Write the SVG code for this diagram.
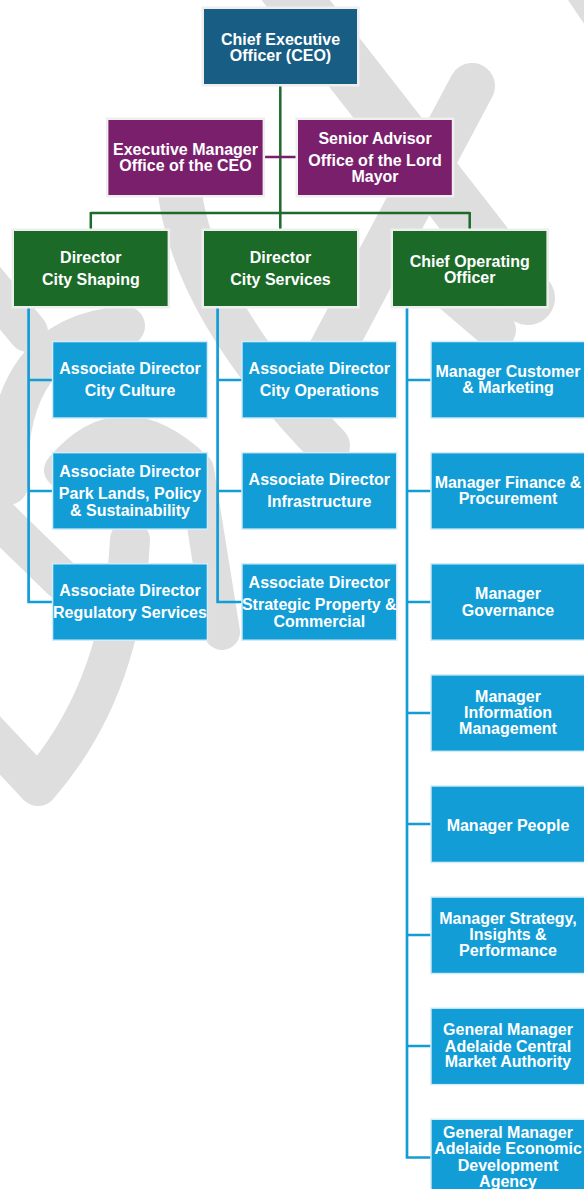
<svg xmlns="http://www.w3.org/2000/svg" width="584" height="1189" viewBox="0 0 584 1189">
<style>
.wm{fill:none;stroke:#dedede;stroke-linecap:round;stroke-linejoin:round}
.box{paint-order:stroke}
.ceo{fill:#185e84;stroke:#eeeeee;stroke-width:5}
.pur{fill:#7a1f6b;stroke:#eeeeee;stroke-width:5}
.grn{fill:#1c6a27;stroke:#eeeeee;stroke-width:5}
.blu{fill:#129dd6;stroke:#d4ecf8;stroke-width:3}
text{font-family:"Liberation Sans",Arial,sans-serif;font-weight:bold;font-size:16px;fill:#ffffff;text-anchor:middle}
.lg{fill:none;stroke:#1d6b2a;stroke-width:2.5}
.lp{fill:none;stroke:#7a1f6b;stroke-width:2.5}
.lb{fill:none;stroke:#139dd6;stroke-width:2.7}
</style>
<rect width="584" height="1189" fill="#ffffff"/>
<g id="watermark">
<path class="wm" stroke-width="54" d="M284,-15 L528,298"/>
<path class="wm" stroke-width="50" d="M578,-30 L625,40"/>
<path class="wm" stroke-width="46" d="M472,86 L320,372"/>
<path class="wm" stroke-width="40" d="M400,248 L496,330"/>
<path class="wm" stroke-width="44" d="M178,175 Q186,300 328,446"/>
<path class="wm" stroke-width="40" d="M-30,262 L28,332"/>
<path class="wm" stroke-width="40" d="M8,485 Q4,335 125,326"/>
<path class="wm" stroke-width="36" d="M62,470 Q122,398 196,470 L222,632"/>
<path class="wm" stroke-width="40" d="M-20,500 L62,580"/>
<path class="wm" stroke-width="40" d="M130,540 Q122,690 38,786 L-22,722"/>
</g>
<g id="connectors">
<path class="lg" d="M280.3,84 V231 M90.8,213 H469.7 M90.8,212 V231 M469.7,212 V231"/>
<path class="lp" d="M262.6,157 H298"/>
<path class="lb" d="M28.6,306 V602 H52 M28.6,380 H52 M28.6,491 H52"/>
<path class="lb" d="M217.6,306 V602 H242 M217.6,380 H242 M217.6,491 H242"/>
<path class="lb" d="M407,306 V1157.5 H431 M407,380 H431 M407,491 H431 M407,602 H431 M407,713 H431 M407,824 H431 M407,935 H431 M407,1046 H431"/>
</g>
<g id="ceo"><rect class="box ceo" x="204" y="9" width="153" height="75"/><text x="280.5" y="44.5">Chief Executive</text><text x="280.5" y="60.5">Officer (CEO)</text></g>
<g id="exec-manager"><rect class="box pur" x="108.4" y="120" width="154.2" height="75"/><text x="185.5" y="155">Executive Manager</text><text x="185.5" y="170.7">Office of the CEO</text></g>
<g id="senior-advisor"><rect class="box pur" x="298" y="120" width="153.8" height="75"/><text x="375" y="144">Senior Advisor</text><text x="375" y="166">Office of the Lord</text><text x="375" y="181.5">Mayor</text></g>
<g id="dir-city-shaping"><rect class="box grn" x="14" y="231" width="153.6" height="75"/><text x="90.8" y="263.3">Director</text><text x="90.8" y="285">City Shaping</text></g>
<g id="dir-city-services"><rect class="box grn" x="204" y="231" width="153" height="75"/><text x="280.5" y="263.3">Director</text><text x="280.5" y="285">City Services</text></g>
<g id="coo"><rect class="box grn" x="393" y="231" width="153.4" height="75"/><text x="469.7" y="266.7">Chief Operating</text><text x="469.7" y="282.5">Officer</text></g>
<g id="ad-city-culture"><rect class="box blu" x="53.3" y="342.3" width="153.4" height="75"/><text x="130" y="374">Associate Director</text><text x="130" y="396">City Culture</text></g>
<g id="ad-park-lands"><rect class="box blu" x="53.3" y="453.4" width="153.4" height="75"/><text x="130" y="476.7">Associate Director</text><text x="130" y="499">Park Lands, Policy</text><text x="130" y="516">&amp; Sustainability</text></g>
<g id="ad-regulatory"><rect class="box blu" x="53.3" y="564.5" width="153.4" height="75"/><text x="130" y="595.7">Associate Director</text><text x="130" y="617.7">Regulatory Services</text></g>
<g id="ad-city-operations"><rect class="box blu" x="242.7" y="342.3" width="153.3" height="75"/><text x="319.3" y="374">Associate Director</text><text x="319.3" y="396">City Operations</text></g>
<g id="ad-infrastructure"><rect class="box blu" x="242.7" y="453.4" width="153.3" height="75"/><text x="319.3" y="485">Associate Director</text><text x="319.3" y="506.7">Infrastructure</text></g>
<g id="ad-strategic-property"><rect class="box blu" x="242.7" y="564.5" width="153.3" height="75"/><text x="319.3" y="588">Associate Director</text><text x="319.3" y="610">Strategic Property &amp;</text><text x="319.3" y="627">Commercial</text></g>
<g id="mgr-customer"><rect class="box blu" x="431.7" y="342.3" width="153" height="75"/><text x="508" y="376.7">Manager Customer</text><text x="508" y="393.3">&amp; Marketing</text></g>
<g id="mgr-finance"><rect class="box blu" x="431.7" y="453.4" width="153" height="75"/><text x="508" y="487.7">Manager Finance &amp;</text><text x="508" y="504.3">Procurement</text></g>
<g id="mgr-governance"><rect class="box blu" x="431.7" y="564.5" width="153" height="75"/><text x="508" y="599">Manager</text><text x="508" y="615.7">Governance</text></g>
<g id="mgr-information"><rect class="box blu" x="431.7" y="675.6" width="153" height="75"/><text x="508" y="701.7">Manager</text><text x="508" y="718.3">Information</text><text x="508" y="734.3">Management</text></g>
<g id="mgr-people"><rect class="box blu" x="431.7" y="786.7" width="153" height="75"/><text x="508" y="830.5">Manager People</text></g>
<g id="mgr-strategy"><rect class="box blu" x="431.7" y="897.8" width="153" height="75"/><text x="508" y="924">Manager Strategy,</text><text x="508" y="940">Insights &amp;</text><text x="508" y="956.3">Performance</text></g>
<g id="gm-acma"><rect class="box blu" x="431.7" y="1008.9" width="153" height="75"/><text x="508" y="1035">General Manager</text><text x="508" y="1051.7">Adelaide Central</text><text x="508" y="1067.3">Market Authority</text></g>
<g id="gm-aeda"><rect class="box blu" x="431.7" y="1120" width="153" height="75"/><text x="508" y="1137.7">General Manager</text><text x="508" y="1154.3">Adelaide Economic</text><text x="508" y="1170.7">Development</text><text x="508" y="1186.7">Agency</text></g>
</svg>
